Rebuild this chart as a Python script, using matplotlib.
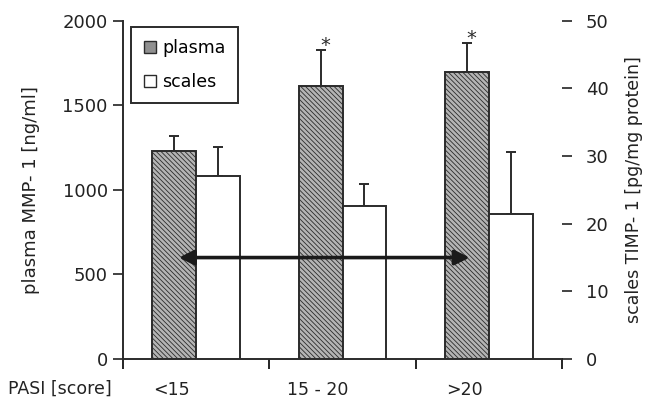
import numpy as np
import matplotlib
matplotlib.use('Agg')
import matplotlib.pyplot as plt
from matplotlib.lines import Line2D

# data
groups = ['<15', '15 - 20', '>20']
plasma = [1231, 1613, 1698]          # ng/ml, left axis
plasma_err = [87, 213, 171]
scales = [27.0, 22.6, 21.5]          # pg/mg protein, right axis
scales_err = [4.3, 3.2, 9.1]
signif = [False, True, True]

plt.rcParams['font.family'] = 'DejaVu Sans'
plt.rcParams['hatch.linewidth'] = 0.6
plt.rcParams['hatch.color'] = '#3a3a3a'

fig = plt.figure(figsize=(6.49, 4.03), dpi=100)
ax = fig.add_axes([0.1895, 0.109, 0.6765, 0.8396])
ax2 = ax.twinx()

x = np.arange(len(groups))
w = 0.30
edge = '#2b2b2b'

ax.bar(x - w / 2, plasma, w, color='#b4b4b4', hatch='\\\\\\\\\\\\\\', edgecolor=edge, lw=1.4, zorder=2)
ax.errorbar(x - w / 2, plasma, yerr=[np.zeros(3), plasma_err], fmt='none',
            ecolor=edge, elinewidth=1.4, capsize=3.5, capthick=1.4, zorder=1)
for xi, p, e, s in zip(x, plasma, plasma_err, signif):
    if s:
        ax.text(xi - w / 2 + 0.03, p + e - 30, '*', ha='center', va='bottom', fontsize=14, color=edge)

ax2.bar(x + w / 2, scales, w, color='white', edgecolor=edge, lw=1.4, zorder=2)
ax2.errorbar(x + w / 2, scales, yerr=[np.zeros(3), scales_err], fmt='none',
             ecolor=edge, elinewidth=1.4, capsize=3.5, capthick=1.4, zorder=1)

ax.set_xlim(-0.5, 2.5)
ax.set_ylim(0, 2000)
ax2.set_ylim(0, 50)

# ticks
ax.set_yticks([0, 500, 1000, 1500, 2000])
ax.tick_params(axis='y', direction='out', length=7, width=1.2, pad=4, labelsize=13, colors='#222222')
ax.set_xticks([-0.5, 0.5, 1.5, 2.5])
ax.set_xticklabels([])
ax.set_xticks(x - 0.17, minor=True)
ax.set_xticklabels(groups, minor=True)
ax.tick_params(axis='x', which='major', direction='out', length=7, width=1.2)
ax.tick_params(axis='x', which='minor', length=0, pad=16, labelsize=12.5, colors='#222222')

ax2.set_yticks([0, 10, 20, 30, 40, 50])
ax2.tick_params(axis='y', direction='out', length=7, width=1.2, pad=10, labelsize=13, colors='#222222')

for a in (ax, ax2):
    a.spines['top'].set_visible(False)
    a.spines['right'].set_visible(False)
ax2.spines['left'].set_visible(False)
ax2.spines['bottom'].set_visible(False)
ax.spines['left'].set_linewidth(1.4)
ax.spines['bottom'].set_linewidth(1.4)
ax.spines['left'].set_color(edge)
ax.spines['bottom'].set_color(edge)

ax.set_ylabel('plasma MMP- 1 [ng/ml]', fontsize=13, labelpad=16, color='#222222')
ax2.set_ylabel('scales TIMP- 1 [pg/mg protein]', fontsize=12.5, labelpad=12, color='#222222')

fig.text(0.012, 0.022, 'PASI [score]', fontsize=12.5, color='#222222')

# double arrow across the groups
ax2.annotate('', xy=(-0.118, 15), xytext=(1.869, 15),
             arrowprops=dict(arrowstyle='<|-|>', mutation_scale=22, lw=2.6, color='#1a1a1a',
                             shrinkA=0, shrinkB=0), zorder=5)

handles = [Line2D([], [], marker='s', ls='none', markersize=9, markerfacecolor='#909090',
                  markeredgecolor=edge),
           Line2D([], [], marker='s', ls='none', markersize=9, markerfacecolor='white',
                  markeredgecolor=edge)]
leg = ax2.legend(handles, ['plasma', 'scales'], loc='upper left', bbox_to_anchor=(0.018, 0.981),
                 borderaxespad=0, fancybox=False, framealpha=1, edgecolor=edge, fontsize=12.5,
                 handlelength=0.8, handletextpad=0.3, labelspacing=0.9, borderpad=0.7)
leg.get_frame().set_linewidth(1.4)
leg.set_zorder(10)

fig.savefig('out.png', dpi=100)
